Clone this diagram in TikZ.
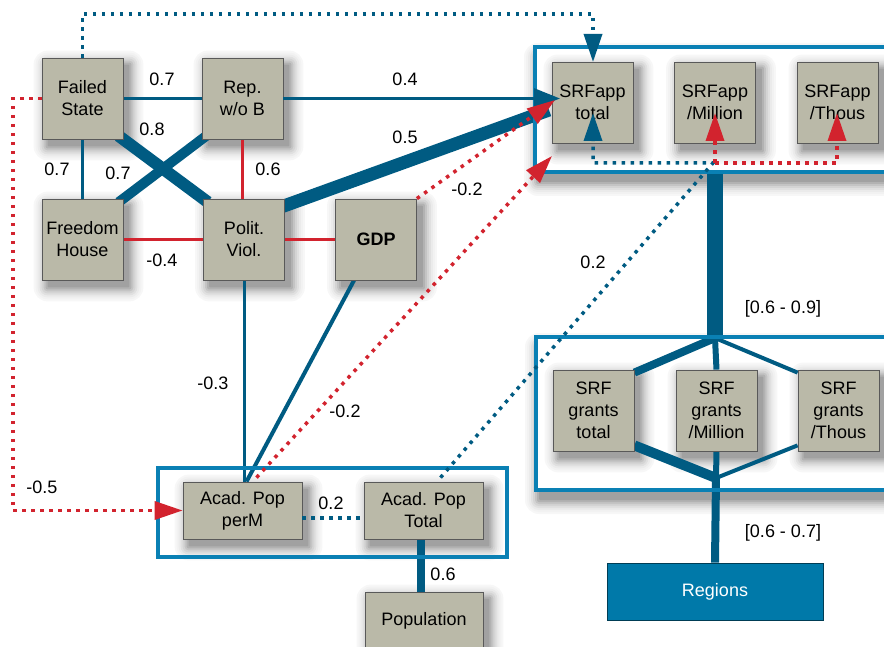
\documentclass[tikz,border=0pt]{standalone}
\usepackage{fontspec}
\setmainfont{Liberation Sans}
\usetikzlibrary{arrows.meta,calc}
\definecolor{lblue}{HTML}{005B82}
\definecolor{fblue}{HTML}{0A80B4}
\definecolor{lred}{HTML}{D2232E}
\definecolor{bgray}{HTML}{BAB9A8}
\definecolor{rblue}{HTML}{0079A9}
\pgfdeclarelayer{shad}\pgfdeclarelayer{edges}\pgfsetlayers{shad,edges,main}
\newcommand\sshadow[4]{%
  \foreach \e/\g/\rc in {14/3/14,12/5/12,10/8/10,8/12/8,6/17/6,4/23/4,2/30/2,0/37/1}
   {\fill[black!\g, rounded corners=\rc pt] ($#1+(#3-\e,#4-\e)$) rectangle ($#2+(#3+\e,#4+\e)$);}}
\tikzset{
 box/.style={fill=bgray, draw=black!65, line width=0.8pt, minimum width=81pt, minimum height=81pt, align=center, inner sep=0pt, font=\fontsize{18}{22}\selectfont},
 wbox/.style={box, minimum width=119pt, minimum height=57pt},
 frm/.style={draw=fblue, line width=3.5pt},
 bl/.style={draw=lblue, line width=#1},
 rd/.style={draw=lred, line width=3pt},
 bdot/.style={draw=lblue, line width=3.5pt, dash pattern=on 3.5pt off 5.5pt},
 rdot/.style={draw=lred, line width=3.5pt, dash pattern=on 3.5pt off 5.5pt},
 lab/.style={font=\fontsize{18}{21}\selectfont, inner sep=0pt},
 tip/.style={-{Triangle[length=28pt,width=18pt]}},
}
\begin{document}
\begin{tikzpicture}[x=1pt,y=-1pt]
\useasboundingbox (0,0) rectangle (884,647);
\clip (0,0) rectangle (884,647);

% frame corners
\coordinate (fa1) at (535,47);  \coordinate (fb1) at (905,172);
\coordinate (fa2) at (536,337); \coordinate (fb2) at (905,490);
\coordinate (fa3) at (158,468); \coordinate (fb3) at (507,557);

% frame borders
\draw[frm] (fa1) rectangle (fb1);
\draw[frm] (fa2) rectangle (fb2);
\draw[frm] (fa3) rectangle (fb3);

% nodes
\node[box] (fs) at (82.5,98.5) {Failed\\State};
\node[box] (rep) at (242.5,98.5) {Rep.\\w/o B};
\node[box] (fh) at (82.5,239.5) {Freedom\\House};
\node[box] (pv) at (244,239.5) {Polit.\\Viol.};
\node[box, font=\fontsize{18}{22}\selectfont\bfseries] (gdp) at (376,239.5) {GDP};
\node[box] (st) at (592.5,102.5) {SRFapp\\total};
\node[box] (sm) at (715,102.5) {SRFapp\\/Million};
\node[box] (sth) at (837.5,102.5) {SRFapp\\/Thous};
\node[box] (gt) at (593.5,410.5) {SRF\\grants\\total};
\node[box] (gm) at (716.5,410.5) {SRF\\grants\\/Million};
\node[box] (gth) at (838.5,410.5) {SRF\\grants\\/Thous};
\node[wbox] (apm) at (242.5,510.5) {Acad. Pop\\perM};
\node[wbox] (apt) at (423.5,510.5) {Acad. Pop\\Total};
\node[wbox, minimum width=118pt] (pop) at (424,620.5) {Population};
\node[draw=black!50!rblue, fill=rblue, text=white, line width=0.8pt, minimum width=216pt, minimum height=57pt, inner sep=0pt, font=\fontsize{18}{21}\selectfont] (reg) at (715,591.5) {Regions};

\coordinate (jt) at (715,338);
\coordinate (jb) at (716,478);
\coordinate (f1s) at (715,172);

% soft shadows and frame interiors
\begin{pgfonlayer}{shad}
\sshadow{(fa1)}{(fb1)}{3}{10}
\sshadow{(fa2)}{(fb2)}{3}{10}
\fill[white] (fa1) rectangle (fb1);
\fill[white] (fa2) rectangle (fb2);
\foreach \n in {fs,rep,fh,pv,gdp,st,sm,sth,gt,gm,gth,apm,apt,pop}
  {\sshadow{(\n.north west)}{(\n.south east)}{6}{7}}
\end{pgfonlayer}

% solid connectors under the boxes
\begin{pgfonlayer}{edges}
\draw[bl=3pt] (fs.east) -- (rep.west);
\draw[bl=3pt] (fs.south) -- (fh.north);
\draw[bl=12pt, shorten <=-6pt, shorten >=-6pt] (fs.south east) -- (pv.north west);
\draw[bl=10pt, shorten <=-6pt, shorten >=-6pt] (fh.north east) -- (rep.south west);
\draw[rd] (rep.south) -- (rep.south |- pv.north);
\draw[rd] (fh.east) -- (pv.west);
\draw[rd] (pv.east) -- (gdp.west);
\draw[bl=3pt] (pv.south) -- (pv.south |- apm.north);
\draw[bl=4pt] ([xshift=-22pt]gdp.south) -- ([xshift=4pt]apm.north);
\draw[bl=8pt] ([xshift=-2.5pt]apt.south) -- ([xshift=-2.5pt]apt.south |- pop.north);
\draw[bl=13pt, shorten <=-10pt] ([yshift=-7pt]pv.north east) -- (549,110);
\draw[bl=16pt] (f1s) -- (jt);
\draw[bl=8pt] (jt) -- ([yshift=-3pt]gt.north east);
\draw[bl=6pt] (jt) -- (gm.north);
\draw[bl=4pt] (jt) -- ([yshift=-3pt]gth.north west);
\draw[bl=10pt] ([yshift=6pt]gt.south east) -- (jb);
\draw[bl=6pt] (gm.south) -- (jb);
\draw[bl=4pt] ([yshift=6pt]gth.south west) -- (jb);
\draw[bl=8pt] (jb) -- (reg.north);
\end{pgfonlayer}

% arrows (drawn over the boxes)
\draw[bl=3pt, -{Triangle[length=26pt,width=20pt]}] (rep.east) -- (560,98.5);
\draw[rdot, tip] (gdp.north east) -- (555,100);
\draw[rdot, tip] ([xshift=14pt,yshift=4pt]apm.north) -- (552,156);
\draw[bdot, tip] ([xshift=17pt,yshift=4pt]apt.north) -- (713,163) -- (593,163) -- (593,113);
\draw[rdot, tip] (715,163) -- (715,113);
\draw[rdot, tip] (715,163) -- (837,163) -- (837,113);
\draw[bdot, tip] (fs.north) -- (82.5,14) -- (593,14) -- (593,62);
\draw[rdot, tip] (fs.west) -- (13,98.5) -- (13,510.5) -- (apm.west);
\draw[bdot] ([yshift=-7.5pt]apm.east) -- ([yshift=-7.5pt]apt.west);

% labels
\node[lab] (l1) at (162,79) {0.7};
\node[lab] (l2) at (405,79) {0.4};
\node[lab] (l3) at (152,129) {0.8};
\node[lab] (l4) at (405,137) {0.5};
\node[lab] (l5) at (57,169) {0.7};
\node[lab] (l6) at (118,173) {0.7};
\node[lab] (l7) at (268,169) {0.6};
\node[lab] (l8) at (162,260) {-0.4};
\node[lab] (l9) at (467,189) {-0.2};
\node[lab] (l10) at (593,262) {0.2};
\node[lab] (l11) at (213,383) {-0.3};
\node[lab] (l12) at (345,411) {-0.2};
\node[lab] (l13) at (42,487) {-0.5};
\node[lab] (l14) at (331,503) {0.2};
\node[lab] (l15) at (443,574) {0.6};
\node[lab] (l16) at (783,309) {[0.6 - 0.9]};
\node[lab] (l17) at (783,533) {[0.6 - 0.7]};
\end{tikzpicture}
\end{document}
